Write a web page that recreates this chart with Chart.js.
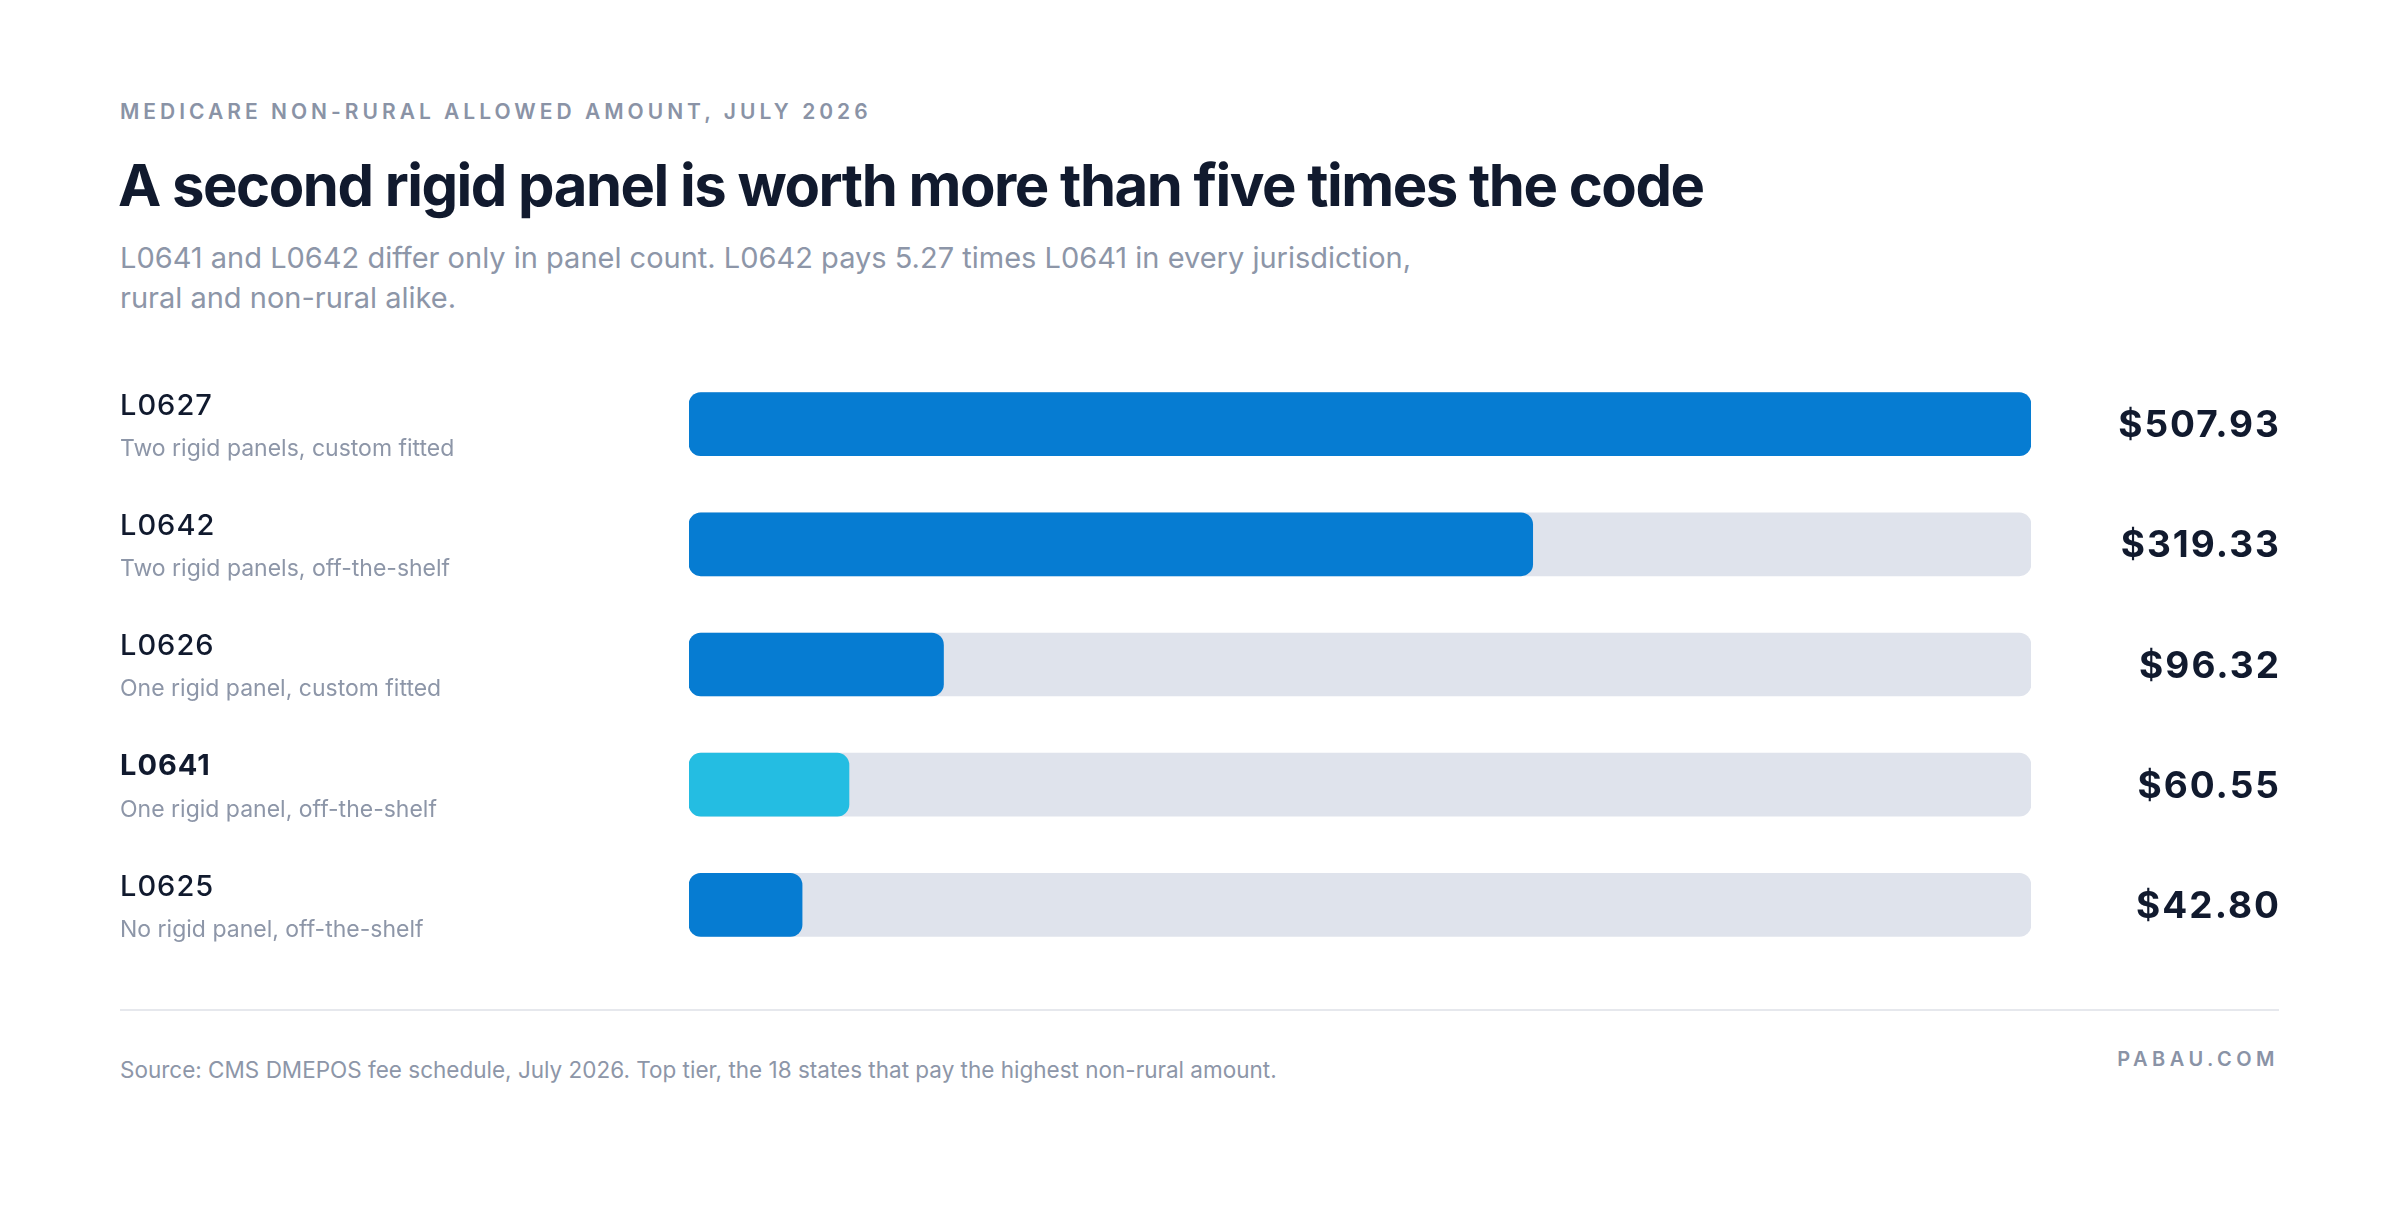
<!DOCTYPE html>
<html>
<head>
<meta charset="utf-8">
<script src="https://cdn.jsdelivr.net/npm/chart.js@4.4.1/dist/chart.umd.min.js"></script>
<style>
  html, body { margin: 0; padding: 0; background: #ffffff; }
  body { width: 2400px; height: 1206px; position: relative; overflow: hidden; font-family: "Inter", "Lato", sans-serif; }
  .abs { position: absolute; white-space: nowrap; }
  #eyebrow { left: 120px; top: 98px; line-height: 28px; font-size: 21px; font-weight: 600; letter-spacing: 4px; color: #8a93a6; }
  #title { left: 118px; top: 150px; line-height: 70px; font-size: 58px; font-weight: 700; letter-spacing: -1.5px; color: #111a2e; }
  #subtitle { left: 120px; top: 238px; line-height: 40px; font-size: 29px; font-weight: 400; color: #8d96a8; }
  #rule { left: 120px; top: 1009px; width: 2159px; height: 2px; background: #e6e8ed; }
  #source { left: 120px; top: 1056px; line-height: 28px; font-size: 22.5px; color: #8d96a8; }
  #brand { right: 121px; top: 1045px; line-height: 28px; font-size: 20px; font-weight: 600; letter-spacing: 4.5px; color: #8a93a6; }
  #wrap { position: absolute; left: 0; top: 364px; width: 2400px; height: 601px; }
</style>
</head>
<body>
<div class="abs" id="eyebrow">MEDICARE NON-RURAL ALLOWED AMOUNT, JULY 2026</div>
<div class="abs" id="title">A second rigid panel is worth more than five times the code</div>
<div class="abs" id="subtitle">L0641 and L0642 differ only in panel count. L0642 pays 5.27 times L0641 in every jurisdiction,<br>rural and non-rural alike.</div>
<div class="wrap" id="wrap"><canvas id="barChart"></canvas></div>
<div class="abs" id="rule"></div>
<div class="abs" id="source">Source: CMS DMEPOS fee schedule, July 2026. Top tier, the 18 states that pay the highest non-rural amount.</div>
<div class="abs" id="brand">PABAU.COM</div>

<script>
// Codes, descriptions and allowed amounts (USD), top to bottom
const codes = ["L0627", "L0642", "L0626", "L0641", "L0625"];
const descriptions = [
  "Two rigid panels, custom fitted",
  "Two rigid panels, off-the-shelf",
  "One rigid panel, custom fitted",
  "One rigid panel, off-the-shelf",
  "No rigid panel, off-the-shelf"
];
const amounts = [507.93, 319.33, 96.32, 60.55, 42.80];
const highlightCode = "L0641";

const maxAmount = Math.max(...amounts);
const trackValues = codes.map(() => maxAmount);

const BLUE = "#067cd2";
const CYAN = "#24bde2";
const TRACK = "#dfe3ec";
const DARK = "#111a2e";
const GRAY = "#8d96a8";

// Draws code + description on the left and the dollar value on the right
const rowLabels = {
  id: "rowLabels",
  afterDatasetsDraw(chart) {
    const ctx = chart.ctx;
    const y = chart.scales.y;
    ctx.save();
    ctx.textBaseline = "middle";
    codes.forEach((code, i) => {
      const cy = y.getPixelForValue(i);
      const isHi = code === highlightCode;
      ctx.textAlign = "left";
      ctx.fillStyle = DARK;
      ctx.font = (isHi ? "700 " : "500 ") + "29px Inter, Lato, sans-serif";
      ctx.letterSpacing = "1px";
      ctx.fillText(code, 120, cy - 18);
      ctx.fillStyle = GRAY;
      ctx.font = "400 23px Inter, Lato, sans-serif";
      ctx.letterSpacing = "0px";
      ctx.fillText(descriptions[i], 120, cy + 25);

      ctx.textAlign = "right";
      ctx.fillStyle = DARK;
      ctx.font = "700 37px Inter, Lato, sans-serif";
      ctx.letterSpacing = "2px";
      ctx.fillText("$" + amounts[i].toFixed(2), 2281, cy + 2);
      ctx.letterSpacing = "0px";
    });
    ctx.restore();
  }
};

new Chart(document.getElementById("barChart"), {
  type: "bar",
  data: {
    labels: codes,
    datasets: [
      {
        label: "Allowed amount",
        data: amounts,
        backgroundColor: codes.map(c => c === highlightCode ? CYAN : BLUE),
        borderRadius: 12,
        borderSkipped: false,
        barThickness: 63
      },
      {
        label: "Track",
        data: trackValues,
        backgroundColor: TRACK,
        borderRadius: 12,
        borderSkipped: false,
        barThickness: 63
      }
    ]
  },
  options: {
    indexAxis: "y",
    responsive: true,
    maintainAspectRatio: false,
    animation: false,
    datasets: { bar: { grouped: false } },
    layout: { padding: { left: 689, right: 369, top: 0, bottom: 0 } },
    scales: {
      x: { display: false, min: 0, max: maxAmount },
      y: { display: false, offset: true }
    },
    plugins: {
      legend: { display: false },
      tooltip: { enabled: false }
    }
  },
  plugins: [rowLabels]
});
</script>
</body>
</html>
